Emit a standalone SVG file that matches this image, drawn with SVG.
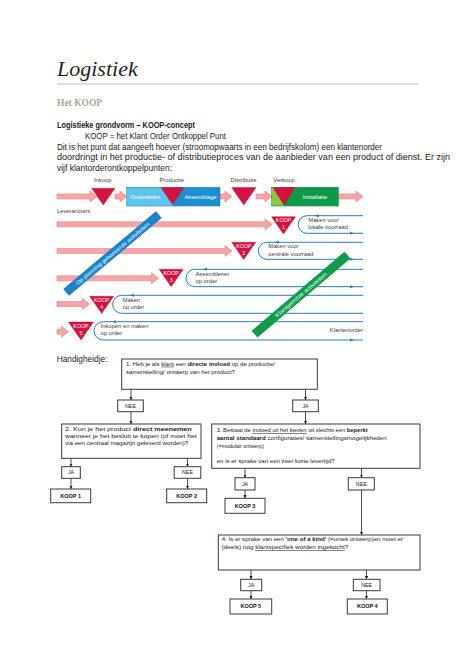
<svg xmlns="http://www.w3.org/2000/svg" width="474" height="670" viewBox="0 0 474 670">
<style>
text{font-family:"Liberation Sans",Arial,sans-serif}
.lbl{font-size:5.8px;fill:#3c3c3c}
.wt{font-size:5.8px;fill:#fff}
.kp{font-size:5.3px;fill:#fff;text-anchor:middle}
.body{font-size:8.6px;fill:#1a1a1a}
.bx{fill:#fff;stroke:#3a3a3a;stroke-width:1}
.bt{font-size:5.3px;fill:#222}
.bc{font-size:5.3px;fill:#222;text-anchor:middle}
.bk{font-size:5.5px;fill:#111;font-weight:bold;text-anchor:middle}
.pk{fill:#f5a5a6;stroke:#e77f85;stroke-width:0.6}
.tri{fill:#d5123f;stroke:#b30d33;stroke-width:0.4}
.loop{fill:none;stroke:#2b7cc0;stroke-width:1}
.ah{fill:#2b7cc0}
.ln{stroke:#222;stroke-width:0.8;fill:none;marker-end:url(#ah)}
.b{font-weight:bold}
.u{text-decoration:underline}
</style>
<defs>
<marker id="ah" viewBox="0 0 6 6" refX="6" refY="3" markerWidth="4" markerHeight="4" orient="auto"><path d="M0,0 L6,3 L0,6 z" fill="#222"/></marker>
</defs>
<rect width="474" height="670" fill="#fff"/>

<g id="header">
<text x="57" y="76" style="font-family:'Liberation Serif',serif;font-style:italic;font-size:22px;fill:#1f1f1f">Logistiek</text>
<line x1="57" y1="84" x2="418" y2="84" stroke="#bdbdbd" stroke-width="1"/>
<text x="57" y="106" style="font-family:'Liberation Serif',serif;font-weight:bold;font-size:9.5px;fill:#9fae96">Het KOOP</text>
<text class="body b" x="57" y="128" textLength="138" lengthAdjust="spacingAndGlyphs">Logistieke grondvorm – KOOP-concept</text>
<text class="body" x="85" y="138.7" textLength="141" lengthAdjust="spacingAndGlyphs">KOOP = het Klant Order Ontkoppel Punt</text>
<text class="body" x="57" y="149.7" textLength="325" lengthAdjust="spacingAndGlyphs">Dit is het punt dat aangeeft hoever (stroomopwaarts in een bedrijfskolom) een klantenorder</text>
<text class="body" x="57" y="160.3" textLength="393" lengthAdjust="spacingAndGlyphs">doordringt in het productie- of distributieproces van de aanbieder van een product of dienst. Er zijn</text>
<text class="body" x="57" y="170.7" textLength="115" lengthAdjust="spacingAndGlyphs">vijf klantorderontkoppelpunten:</text>
</g>

<g id="koop-diagram">
<g id="labels">
<text class="lbl" x="102.7" y="181.7" text-anchor="middle">Inkoop</text>
<text class="lbl" x="171.7" y="181.7" text-anchor="middle">Productie</text>
<text class="lbl" x="243.5" y="181.7" text-anchor="middle">Distributie</text>
<text class="lbl" x="284" y="181.7" text-anchor="middle">Verkoop</text>
<text class="lbl" x="57" y="213.3">Leveranciers</text>
<text class="lbl" x="363" y="332.3" text-anchor="end">Klantenorder</text>
</g>
<g id="flow-arrows">
<polygon class="pk" points="57,194 90,194 90,191 97,196.5 90,202 90,199 57,199"/>
<polygon class="pk" points="115,194 120,194 120,191 127,196.5 120,202 120,199 115,199"/>
<polygon class="pk" points="220,194 225,194 225,191 232,196.5 225,202 225,199 220,199"/>
<polygon class="pk" points="256,194 265,194 265,191 272,196.5 265,202 265,199 256,199"/>
<polygon class="pk" points="338,194 356,194 356,191 363,196.5 356,202 356,199 338,199"/>
<polygon class="pk" points="57,221.8 265,221.8 265,218.8 272,224.3 265,229.8 265,226.8 57,226.8"/>
<polygon class="pk" points="57,248.5 225,248.5 225,245.5 232,251 225,256.5 225,253.5 57,253.5"/>
<polygon class="pk" points="57,275.8 151.5,275.8 151.5,272.8 158.5,278.3 151.5,283.8 151.5,280.8 57,280.8"/>
<polygon class="pk" points="57,301.5 82.5,301.5 82.5,298.5 89.5,304 82.5,309.5 82.5,306.5 57,306.5"/>
<polygon class="pk" points="57,329.2 61.5,329.2 61.5,326.2 68.5,331.7 61.5,337.2 61.5,334.2 57,334.2"/>
</g>
<g id="productie-box">
<rect x="126.7" y="187.3" width="46" height="18.7" fill="#5cc4ee"/>
<rect x="172.7" y="187.3" width="47.3" height="18.7" fill="#1b8fd2"/>
<rect x="126.7" y="187.3" width="93.3" height="18.7" fill="none" stroke="#1a7fc0" stroke-width="0.5"/>
<text class="wt" x="130" y="198.5">Onderdelen</text>
<text class="wt" x="184.5" y="198.5">Assemblage</text>
</g>
<g id="verkoop-box">
<rect x="271.7" y="187.3" width="12.3" height="18.7" fill="#8cc63e"/>
<rect x="284" y="187.3" width="54.3" height="18.7" fill="#0c9a48"/>
<rect x="271.7" y="187.3" width="66.6" height="18.7" fill="none" stroke="#0a7d3a" stroke-width="0.5"/>
<text class="wt" x="315" y="198.5" text-anchor="middle">Installatie</text>
</g>
<g id="top-triangles">
<polygon class="tri" points="91.7,188.3 115,188.3 103.3,205"/>
<polygon class="tri" points="161,187.5 184,187.5 172.5,204.5"/>
<polygon class="tri" points="231.7,187.5 256,187.5 243.8,205"/>
<polygon class="tri" points="273,187.5 295,187.5 284,205"/>
</g>
<g id="loops">
<path class="loop" d="M363,215.7 H307.1 A8.8,8.8 0 0 0 307.1,233.3 H363"/>
<path class="loop" d="M363,242.3 H266.8 A8.5,8.5 0 0 0 266.8,259.3 H363"/>
<path class="loop" d="M363,269.3 H194.7 A8.7,8.7 0 0 0 194.7,286.7 H363"/>
<path class="loop" d="M363,295.3 H121.7 A9,9 0 0 0 121.7,313.3 H363"/>
<path class="loop" d="M363,321.7 H103.2 A9.15,9.15 0 0 0 103.2,340 H363"/>
<polygon class="ah" points="350,231.8 354,233.3 350,234.8"/>
<polygon class="ah" points="350,257.8 354,259.3 350,260.8"/>
<polygon class="ah" points="350,285.2 354,286.7 350,288.2"/>
<polygon class="ah" points="350,338.5 354,340 350,341.5"/>
<polygon class="ah" points="315,215.7 319,214.2 319,217.2"/>
<polygon class="ah" points="275,242.3 279,240.8 279,243.8"/>
<polygon class="ah" points="203,269.3 207,267.8 207,270.8"/>
<polygon class="ah" points="130,295.3 134,293.8 134,296.8"/>
<polygon class="ah" points="112,321.7 116,320.2 116,323.2"/>
<text class="lbl" x="308.3" y="221.7">Maken voor</text>
<text class="lbl" x="308.3" y="229.3">lokale voorraad</text>
<text class="lbl" x="268.3" y="247.7">Maken voor</text>
<text class="lbl" x="268.3" y="255.7">centrale voorraad</text>
<text class="lbl" x="195.5" y="275.7">Assembleren</text>
<text class="lbl" x="195.5" y="282.7">op order</text>
<text class="lbl" x="122.7" y="302.3">Maken</text>
<text class="lbl" x="122.7" y="309.3">op order</text>
<text class="lbl" x="100.7" y="328">Inkopen en maken</text>
<text class="lbl" x="100.7" y="335.3">op order</text>
</g>
<g id="koop1"><polygon class="tri" points="271.5,216.7 295.5,216.7 283.5,234"/><text class="kp" x="283.5" y="222.4">KOOP</text><text class="kp" x="283.5" y="229.3">1</text></g>
<g id="koop2"><polygon class="tri" points="231.7,242.3 255.7,242.3 243.7,259.5"/><text class="kp" x="243.7" y="248">KOOP</text><text class="kp" x="243.7" y="254.9">2</text></g>
<g id="koop3"><polygon class="tri" points="159.2,269.3 183.2,269.3 171.2,286.7"/><text class="kp" x="171.2" y="275">KOOP</text><text class="kp" x="171.2" y="281.9">3</text></g>
<g id="koop4"><polygon class="tri" points="89.7,296.3 113.7,296.3 101.7,313.5"/><text class="kp" x="101.7" y="302">KOOP</text><text class="kp" x="101.7" y="308.9">4</text></g>
<g id="koop5"><polygon class="tri" points="68.5,322 93.5,322 81,340"/><text class="kp" x="81" y="327.8">KOOP</text><text class="kp" x="81" y="334.8">5</text></g>
<g id="band-planning" transform="translate(112.5,253.5) rotate(-40)">
<rect x="-60.5" y="-4.5" width="121" height="9" fill="#1a84c6"/>
<text x="0" y="1.9" text-anchor="middle" style="font-size:5.2px;fill:#fff" textLength="94" lengthAdjust="spacingAndGlyphs">Op planning gebaseerde activiteiten</text>
</g>
<g id="band-klant" transform="translate(301,294.6) rotate(-40.4)">
<rect x="-61" y="-4.5" width="122" height="9" fill="#0f9c48"/>
<text x="0" y="1.9" text-anchor="middle" style="font-size:5.2px;fill:#fff" textLength="66" lengthAdjust="spacingAndGlyphs">Klantgerichte activiteiten</text>
</g>
</g>

<text x="56.7" y="361.7" style="font-size:8.3px;fill:#1a1a1a">Handigheidje:</text>

<g id="connectors">
<path class="ln" d="M131,389.3 V400"/>
<path class="ln" d="M131,411.7 V424"/>
<path class="ln" d="M305.5,389.3 V400"/>
<path class="ln" d="M305.5,411.7 V424"/>
<path class="ln" d="M71,458.3 V466.7"/>
<path class="ln" d="M71,478.3 V489"/>
<path class="ln" d="M187.5,458.3 V466.7"/>
<path class="ln" d="M187.5,478.3 V489"/>
<path class="ln" d="M245,468.3 V477.7"/>
<path class="ln" d="M245,490 V498.3"/>
<path class="ln" d="M361.5,468.3 V477.7"/>
<path class="ln" d="M361.5,490 V535"/>
<path class="ln" d="M251,570 V579.3"/>
<path class="ln" d="M251,590.7 V599"/>
<path class="ln" d="M366.5,570 V579.3"/>
<path class="ln" d="M366.5,590.7 V599"/>
</g>

<g id="q1">
<rect class="bx" x="121.7" y="359" width="195.6" height="30.3"/>
<text class="bt" x="126" y="365.7" textLength="149" lengthAdjust="spacingAndGlyphs">1. Heb je als <tspan class="u">klant</tspan> een <tspan class="b">directe invloed</tspan> op de productie/</text>
<text class="bt" x="126" y="374" textLength="109" lengthAdjust="spacingAndGlyphs">samenstelling/ ontwerp van het product?</text>
</g>
<g id="nee1"><rect class="bx" x="117.7" y="400" width="25.6" height="11.7"/><text class="bc" x="130.5" y="407.8">NEE</text></g>
<g id="ja1"><rect class="bx" x="292.7" y="400" width="25.6" height="11.7"/><text class="bc" x="305.5" y="407.8">JA</text></g>
<g id="q2">
<rect class="bx" x="61.7" y="424" width="139.3" height="34.3"/>
<text class="bt" x="65" y="431" textLength="126.7" lengthAdjust="spacingAndGlyphs">2. Kun je het product <tspan class="b">direct meenemen</tspan></text>
<text class="bt" x="65" y="438.3" textLength="131.7" lengthAdjust="spacingAndGlyphs">wanneer je het besluit te kopen (of moet het</text>
<text class="bt" x="65" y="445.3" textLength="123.3" lengthAdjust="spacingAndGlyphs">via een centraal magazijn geleverd worden)?</text>
</g>
<g id="q3">
<rect class="bx" x="211.7" y="424" width="208.3" height="44.3"/>
<text class="bt" x="216.7" y="432" textLength="151" lengthAdjust="spacingAndGlyphs">3. Bestaat de <tspan class="u">invloed uit het kiezen</tspan> uit slechts een <tspan class="b">beperkt</tspan></text>
<text class="bt" x="216.7" y="440.3" textLength="170" lengthAdjust="spacingAndGlyphs"><tspan class="b">aantal standaard</tspan> configuraties/ samenstellingsmogelijkheden</text>
<text class="bt" x="216.7" y="447.8">(=modulair ontwerp)</text>
<text class="bt" x="216.7" y="462.5" textLength="118" lengthAdjust="spacingAndGlyphs">en is er sprake van een zeer korte levertijd?</text>
</g>
<g id="ja2"><rect class="bx" x="61.7" y="466.7" width="18.6" height="11.6"/><text class="bc" x="71" y="474.4">JA</text></g>
<g id="nee2"><rect class="bx" x="174.2" y="466.7" width="26.6" height="11.6"/><text class="bc" x="187.5" y="474.4">NEE</text></g>
<g id="koop1-box"><rect class="bx" x="50.7" y="489" width="40" height="13.7"/><text class="bk" x="70.7" y="497.8">KOOP 1</text></g>
<g id="koop2-box"><rect class="bx" x="166.7" y="489" width="40" height="13.7"/><text class="bk" x="186.7" y="497.8">KOOP 2</text></g>
<g id="ja3"><rect class="bx" x="235" y="477.7" width="20" height="12.3"/><text class="bc" x="245" y="485.8">JA</text></g>
<g id="nee3"><rect class="bx" x="348.3" y="477.7" width="26" height="12.3"/><text class="bc" x="361.3" y="485.8">NEE</text></g>
<g id="koop3-box"><rect class="bx" x="225" y="498.3" width="40" height="15"/><text class="bk" x="245" y="507.7">KOOP 3</text></g>
<g id="q4">
<rect class="bx" x="218.3" y="535" width="201.7" height="35"/>
<text class="bt" x="221.7" y="540.7" textLength="181.3" lengthAdjust="spacingAndGlyphs">4. Is er sprake van een <tspan class="b">'one of a kind'</tspan> (=uniek ontwerp)en moet er</text>
<text class="bt" x="221.7" y="549.3" textLength="126.7" lengthAdjust="spacingAndGlyphs">(deels) nog <tspan class="u">klantspecifiek worden ingekocht</tspan>?</text>
</g>
<g id="ja4"><rect class="bx" x="240.7" y="579.3" width="21" height="11.4"/><text class="bc" x="251.2" y="587">JA</text></g>
<g id="nee4"><rect class="bx" x="353.3" y="579.3" width="26.7" height="11.4"/><text class="bc" x="366.6" y="587">NEE</text></g>
<g id="koop5-box"><rect class="bx" x="230" y="599" width="41.7" height="15"/><text class="bk" x="250.8" y="608.4">KOOP 5</text></g>
<g id="koop4-box"><rect class="bx" x="347.3" y="599" width="40" height="15"/><text class="bk" x="367.3" y="608.4">KOOP 4</text></g>
</svg>
